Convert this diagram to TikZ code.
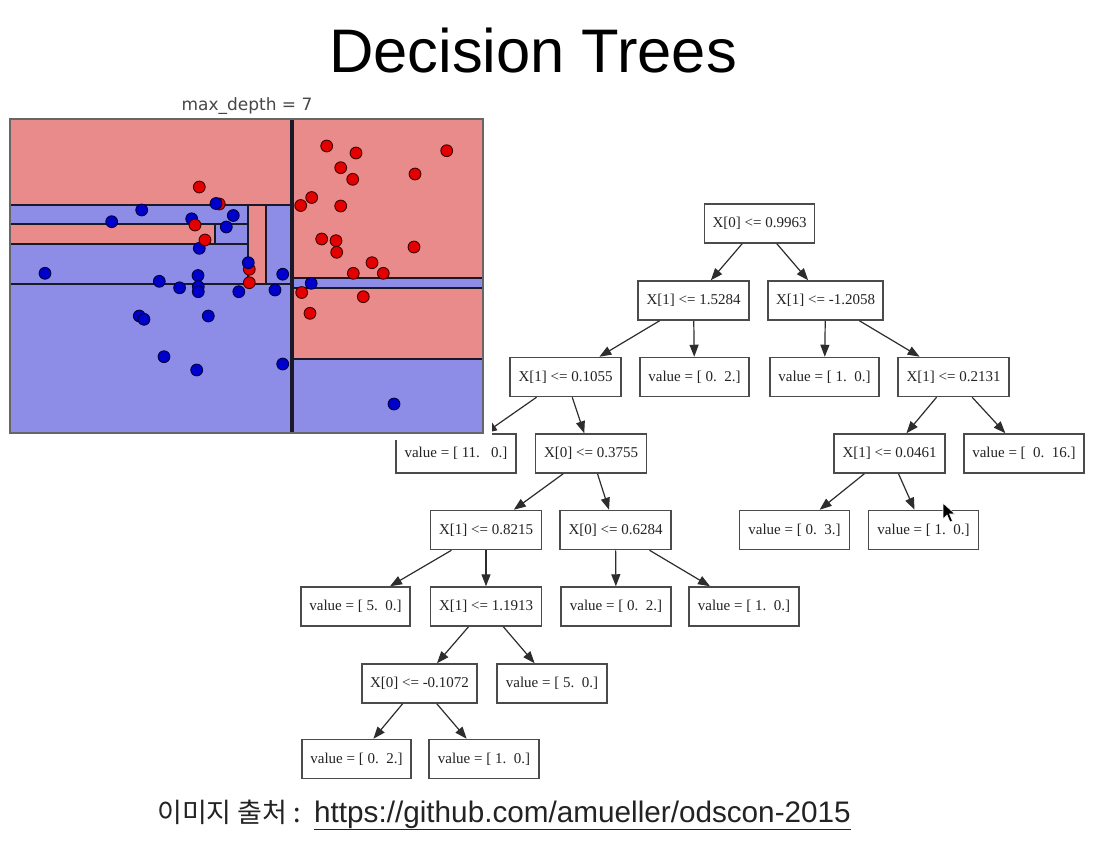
\documentclass[tikz,border=0pt]{standalone}
\usepackage{fontspec}
\setmainfont{Liberation Serif}
\newfontfamily\sansf{Liberation Sans}
\newfontfamily\dvs{DejaVu Sans}
\newfontfamily\kr{Noto Sans CJK KR}
\usetikzlibrary{arrows.meta}
\definecolor{regred}{RGB}{233,139,139}
\definecolor{regblue}{RGB}{141,141,231}
\definecolor{dotred}{RGB}{228,0,0}
\definecolor{dotblue}{RGB}{0,0,205}
\definecolor{partline}{RGB}{25,25,40}
\definecolor{boxline}{RGB}{75,75,75}
\definecolor{edgecol}{RGB}{45,45,45}
\definecolor{txt}{RGB}{35,35,35}
\begin{document}
\begin{tikzpicture}[x=1pt,y=-1pt,
  tnode/.style={draw=boxline, line width=1.5pt, fill=white, minimum width=110pt, minimum height=39pt, inner sep=0pt, font=\fontsize{15}{18}\selectfont, text=txt},
  tedge/.style={draw=edgecol, line width=1.2pt, -{Triangle[length=12pt,width=9pt]}},
  rdot/.style={fill=dotred, draw=black!75!red, line width=0.9pt},
  bdot/.style={fill=dotblue, draw=black!75!blue, line width=0.9pt},
  pline/.style={draw=partline, line width=2.8pt},
  mainline/.style={draw=partline, line width=3.2pt}
]
\useasboundingbox (0,0) rectangle (1116,844);
\fill[white] (0,0) rectangle (1116,844);

% title
\node[font=\sansf\fontsize{61.5}{72}\selectfont, anchor=base, text=black] (title) at (533,72) {Decision Trees};

% ---------------- tree ----------------
\node[tnode] (n1) at (759.5,223.5) {X[0] \textless= 0.9963};
\node[tnode, minimum width=111pt] (n2) at (693.5,300.5) {X[1] \textless= 1.5284};
\node[tnode, minimum width=115pt] (n3) at (825.5,300.5) {X[1] \textless= -1.2058};
\node[tnode, minimum width=111pt] (n4) at (565.5,377) {X[1] \textless= 0.1055};
\node[tnode, minimum width=109pt] (n5) at (694.5,377) {value = [~0.~~2.]};
\node[tnode, minimum width=109pt] (n6) at (824.5,377) {value = [~1.~~0.]};
\node[tnode, minimum width=111pt] (n7) at (953.5,377) {X[1] \textless= 0.2131};
\node[tnode, minimum width=120pt] (n8) at (456,453.5) {value = [~11.~~~0.]};
\node[tnode, minimum width=111pt] (n9) at (591,453.5) {X[0] \textless= 0.3755};
\node[tnode, minimum width=111pt] (n10) at (889.5,453.5) {X[1] \textless= 0.0461};
\node[tnode, minimum width=120pt] (n11) at (1024,453.5) {value = [~~0.~~16.]};
\node[tnode, minimum width=111pt] (n12) at (486,530) {X[1] \textless= 0.8215};
\node[tnode, minimum width=111pt] (n13) at (615.5,530) {X[0] \textless= 0.6284};
\node[tnode, minimum width=110pt] (n14) at (794.5,530) {value = [~0.~~3.]};
\node[tnode, minimum width=110pt] (n15) at (923.5,530) {value = [~1.~~0.]};
\node[tnode, minimum width=109pt] (n16) at (355.5,606.5) {value = [~5.~~0.]};
\node[tnode, minimum width=111pt] (n17) at (486,606.5) {X[1] \textless= 1.1913};
\node[tnode, minimum width=110pt] (n18) at (616,606.5) {value = [~0.~~2.]};
\node[tnode, minimum width=110pt] (n19) at (744,606.5) {value = [~1.~~0.]};
\node[tnode, minimum width=115pt] (n20) at (419.5,683.5) {X[0] \textless= -0.1072};
\node[tnode, minimum width=110pt] (n21) at (552,683.5) {value = [~5.~~0.]};
\node[tnode, minimum width=109pt] (n22) at (356.5,759) {value = [~0.~~2.]};
\node[tnode, minimum width=110pt] (n23) at (484,759) {value = [~1.~~0.]};

\draw[tedge] (n1) -- (n2);
\draw[tedge] (n1) -- (n3);
\draw[tedge] (n2) -- (n4);
\draw[tedge] (n2) -- (n5);
\draw[tedge] (n3) -- (n6);
\draw[tedge] (n3) -- (n7);
\draw[tedge] (n4) -- (n8);
\draw[tedge] (n4) -- (n9);
\draw[tedge] (n7) -- (n10);
\draw[tedge] (n7) -- (n11);
\draw[tedge] (n9) -- (n12);
\draw[tedge] (n9) -- (n13);
\draw[tedge] (n10) -- (n14);
\draw[tedge] (n10) -- (n15);
\draw[tedge] (n12) -- (n16);
\draw[tedge] (n12) -- (n17);
\draw[tedge] (n13) -- (n18);
\draw[tedge] (n13) -- (n19);
\draw[tedge] (n17) -- (n20);
\draw[tedge] (n17) -- (n21);
\draw[tedge] (n20) -- (n22);
\draw[tedge] (n20) -- (n23);

% mouse cursor
\filldraw[fill=black, draw=white, line width=0.6pt] (943,503) -- (943,519) -- (947,515) -- (950,522) -- (952.5,521) -- (949.5,514) -- (955,514) -- cycle;

% ---------------- plot (image pasted over the tree) ----------------
\fill[white] (0,88) rectangle (492,440);
\node[font=\dvs\fontsize{17}{20}\selectfont, anchor=base, text=black!72] (mdlabel) at (247,110.5) {max\_depth = 7};

\fill[regblue] (10,119) rectangle (483,433);
\fill[regred] (10,119) rectangle (292,205);
\fill[regred] (10,224) rectangle (215,244);
\fill[regred] (248,205) rectangle (266,284);
\fill[regred] (292,119) rectangle (483,278);
\fill[regred] (292,288) rectangle (483,359);

\draw[pline] (10,205) -- (292,205);
\draw[pline] (10,224) -- (248,224);
\draw[pline] (215,224) -- (215,244);
\draw[pline] (10,244) -- (248,244);
\draw[pline] (248,205) -- (248,284);
\draw[pline] (266,205) -- (266,284);
\draw[pline] (10,284) -- (292,284);
\draw[pline] (292,278) -- (483,278);
\draw[pline] (292,288) -- (483,288);
\draw[pline] (292,359) -- (483,359);
\draw[mainline] (292,119) -- (292,433);
\draw[draw=black!60, line width=1.4pt] (10,119) rectangle (483,433);

% points
\foreach \px/\py in {219.3/204, 326.7/146, 356/153, 446.7/150.7, 340.7/167.7, 352.7/179.3, 415/174,
  311.7/197.5, 300.7/205.5, 340.7/206, 321.7/239, 336/240.7, 336.7/252.3, 414/247, 372/262.7,
  353.3/273.3, 383.3/273.3, 301.7/292.5, 363.3/296.7, 310/313.3, 249.3/282.7, 249.3/269.3, 199.3/187}
  {\draw[rdot] (\px,\py) circle (5.9);}
\foreach \px/\py in {216/203.5, 141.7/210, 111.7/221.7, 191.7/218.8, 233.3/215.5, 226.3/227, 199.3/248.3,
  248.3/262.7, 45/273.3, 159.3/281.3, 179.6/287.8, 198/275.5, 198.3/286.7, 198.3/291.7, 238.8/291.7,
  139.3/316, 144/319.3, 208.3/316, 164/356.7, 196.7/370, 282.7/274.2, 275/290, 311.2/283.3, 282.7/364, 394/404}
  {\draw[bdot] (\px,\py) circle (5.9);}
\foreach \px/\py in {195/225, 205/240}
  {\draw[rdot] (\px,\py) circle (5.9);}

% ---------------- caption ----------------
\node[anchor=base west, font=\kr\fontsize{27}{32}\selectfont, text=txt, inner sep=0pt] (capkr) at (157,822) {이미지 출처~:};
\node[anchor=base west, font=\sansf\fontsize{29.7}{34}\selectfont, text=txt, inner sep=0pt] (capurl) at (314,822) {\underline{https://github.com/amueller/odscon-2015}};
\end{tikzpicture}
\end{document}
